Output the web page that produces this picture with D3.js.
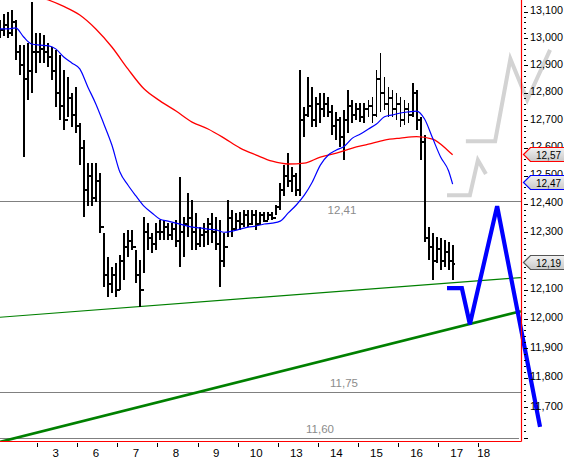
<!DOCTYPE html>
<html><head><meta charset="utf-8">
<script src="https://cdn.jsdelivr.net/npm/d3@7"></script>
<style>
body{margin:0;background:#fff}
svg{display:block}
text{font-family:"Liberation Sans",Arial,sans-serif;font-size:11.5px}
</style>
</head><body>
<svg id="c" width="564" height="461"></svg>
<script>
// ---------- DATA ----------
const days = ["2","3","6","7","8","9","10","13","14","15","16","17","18"];
const barsPerDay = 10;
const high = [13.07,13.09,13.10,13.105,13.07,12.975,12.975,12.983,13.136,13.02,
13.02,13.012,12.983,12.968,12.957,12.938,12.883,12.857,12.80,12.821,
12.69,12.628,12.545,12.545,12.545,12.51,12.297,12.213,12.178,12.192,
12.22,12.297,12.308,12.308,12.237,12.203,12.353,12.332,12.297,12.332,
12.343,12.343,12.332,12.332,12.343,12.495,12.353,12.438,12.414,12.368,
12.318,12.332,12.35,12.368,12.353,12.343,12.297,12.414,12.378,12.368,
12.371,12.378,12.378,12.378,12.378,12.371,12.371,12.371,12.371,12.396,
12.474,12.538,12.581,12.531,12.51,12.883,12.748,12.857,12.821,12.784,
12.80,12.80,12.784,12.755,12.73,12.712,12.737,12.81,12.773,12.762,
12.762,12.762,12.773,12.784,12.883,12.946,12.857,12.821,12.81,12.80,
12.784,12.773,12.762,12.835,12.81,12.712,12.646,12.318,12.297,12.283,
12.279,12.272,12.265,12.255];
const low = [13.00,13.01,13.00,13.01,12.92,12.865,12.567,12.773,12.80,12.872,
12.909,12.909,12.894,12.846,12.748,12.701,12.664,12.712,12.675,12.653,
12.538,12.354,12.393,12.393,12.407,12.297,12.108,12.074,12.088,12.074,
12.098,12.133,12.213,12.237,12.122,12.04,12.157,12.237,12.227,12.237,
12.272,12.272,12.272,12.272,12.248,12.178,12.213,12.283,12.237,12.237,
12.248,12.248,12.255,12.262,12.237,12.108,12.178,12.283,12.283,12.308,
12.308,12.318,12.318,12.325,12.308,12.325,12.336,12.343,12.343,12.36,
12.378,12.428,12.46,12.442,12.428,12.428,12.639,12.712,12.675,12.675,
12.69,12.712,12.712,12.646,12.628,12.603,12.556,12.653,12.69,12.701,
12.693,12.69,12.712,12.69,12.712,12.73,12.737,12.712,12.712,12.701,
12.675,12.682,12.69,12.712,12.664,12.556,12.265,12.203,12.133,12.192,
12.168,12.178,12.168,12.133];
const close = [13.03,13.05,13.02,13.06,12.95,12.90,12.85,12.88,12.95,12.95,
12.96,12.95,12.93,12.88,12.80,12.75,12.70,12.78,12.72,12.68,
12.60,12.45,12.50,12.42,12.48,12.32,12.15,12.12,12.15,12.10,
12.20,12.25,12.27,12.25,12.15,12.10,12.30,12.28,12.26,12.30,
12.30,12.32,12.29,12.31,12.27,12.30,12.33,12.35,12.30,12.26,
12.29,12.30,12.33,12.30,12.26,12.20,12.25,12.35,12.31,12.34,
12.33,12.36,12.33,12.36,12.33,12.36,12.34,12.36,12.35,12.39,
12.45,12.50,12.48,12.50,12.45,12.70,12.72,12.75,12.70,12.76,
12.74,12.76,12.73,12.68,12.70,12.64,12.70,12.75,12.72,12.74,
12.71,12.74,12.75,12.72,12.85,12.80,12.76,12.78,12.74,12.76,
12.70,12.74,12.72,12.80,12.70,12.62,12.28,12.25,12.20,12.24,
12.20,12.23,12.20,12.19];

// moving averages (bar index, value)
const maBlueIdx = d3.range(0, 113, 2).concat([113]);
const maBlue = [13.035,13.035,13.039,13.005,12.979,12.975,12.973,12.961,12.931,12.909,
12.887,12.821,12.759,12.686,12.61,12.513,12.467,12.428,12.392,12.368,
12.346,12.339,12.332,12.325,12.318,12.315,12.311,12.308,12.30,12.304,
12.311,12.318,12.322,12.329,12.332,12.339,12.368,12.396,12.431,12.478,
12.538,12.574,12.592,12.606,12.635,12.65,12.668,12.686,12.712,12.719,
12.726,12.73,12.733,12.704,12.635,12.567,12.517,12.47];
const maRedIdx = d3.range(8, 113, 4).concat([113]);
const maRed = [13.163,13.144,13.119,13.087,13.035,12.968,12.887,12.814,12.77,12.733,
12.693,12.668,12.635,12.599,12.574,12.552,12.542,12.545,12.567,12.581,
12.599,12.613,12.628,12.635,12.64,12.631,12.588,12.575];

// trend lines
const trendIdx = [0, 130];
const trendThin = [12.005, 12.142];
const trendThick = [11.585, 12.026];

// horizontal levels
const levels = [12.41, 11.75, 11.60];

// projections
const projBlueIdx = [111.6, 115.3, 117.3, 124.1, 134.8];
const projBlue = [12.105, 12.105, 11.981, 12.392, 11.635];
const projGreyAIdx = [111.6, 117.3, 119.3, 121.3];
const projGreyA = [12.431, 12.431, 12.556, 12.506];
const projGreyBIdx = [116.3, 123.6, 127.4, 131.6, 137.3];
const projGreyB = [12.624, 12.624, 12.924, 12.773, 12.957];

// right axis
const yTicks = [11.7,11.8,11.9,12.0,12.1,12.2,12.3,12.4,12.5,12.6,12.7,12.8,12.9,13.0,13.1];
const priceTags = [12.57, 12.47, 12.19];

// ---------- DRAW ----------
const svg = d3.select("#c");
const plotR = 521.5, plotB = 441.5;
const x = d3.scaleLinear().domain([9.5, 119.5]).range([37.7, 478.7]);
const y = d3.scaleLog().domain([11.6, 13.1]).range([437.5, 11.5]);
const loc = d3.formatLocale({decimal: ",", thousands: ".", grouping: [3], currency: ["", ""]});
const f3 = loc.format(".3f"), f2 = loc.format(".2f");

const defs = svg.append("defs");
defs.append("clipPath").attr("id", "plot").append("rect")
  .attr("x", 0).attr("y", 0).attr("width", plotR).attr("height", plotB);
const gr = defs.append("linearGradient").attr("id", "tag").attr("x1", 0).attr("y1", 0).attr("x2", 0).attr("y2", 1);
gr.append("stop").attr("offset", 0).attr("stop-color", "#f2f2f2");
gr.append("stop").attr("offset", 1).attr("stop-color", "#c9c9c9");

const plot = svg.append("g").attr("clip-path", "url(#plot)");

// level lines
const levelLabelDX = [342, 344, 320];
const levelLabelDY = [12.5, -5, -5];
levels.forEach((v, k) => {
  plot.append("line").attr("x1", 0).attr("x2", k === 2 ? 519 : plotR)
    .attr("y1", Math.round(y(v)) + 0.5).attr("y2", Math.round(y(v)) + 0.5)
    .attr("stroke", "#808080").attr("stroke-width", 1);
  svg.append("text").attr("x", levelLabelDX[k]).attr("y", y(v) + levelLabelDY[k])
    .attr("text-anchor", "middle").attr("fill", "#8c8c8c").text(f2(v));
});

// trend lines
const tl = d3.line().x((d, i) => x(trendIdx[i])).y(d => y(d));
plot.append("path").attr("d", tl(trendThin)).attr("fill", "none")
  .attr("stroke", "#008000").attr("stroke-width", 1.2);
plot.append("path").attr("d", tl(trendThick)).attr("fill", "none")
  .attr("stroke", "#008000").attr("stroke-width", 2.6);

// OHLC bars
const bars = plot.append("g").attr("stroke", "#000").attr("shape-rendering", "crispEdges");
high.forEach((h, i) => {
  const xi = x(i);
  const open = i > 0 ? close[i - 1] : close[i];
  bars.append("line").attr("x1", xi).attr("x2", xi).attr("y1", y(h)).attr("y2", y(low[i])).attr("stroke-width", 1.9);
  bars.append("line").attr("x1", xi - 2.3).attr("x2", xi).attr("y1", y(open)).attr("y2", y(open)).attr("stroke-width", 2);
  bars.append("line").attr("x1", xi).attr("x2", xi + 2.3).attr("y1", y(close[i])).attr("y2", y(close[i])).attr("stroke-width", 2);
});

// moving averages
plot.append("path").attr("d", d3.line().x((d, i) => x(maRedIdx[i])).y(d => y(d)).curve(d3.curveMonotoneX)(maRed))
  .attr("fill", "none").attr("stroke", "#ff0000").attr("stroke-width", 1.3);
plot.append("path").attr("d", d3.line().x((d, i) => x(maBlueIdx[i])).y(d => y(d)).curve(d3.curveMonotoneX)(maBlue))
  .attr("fill", "none").attr("stroke", "#0000ff").attr("stroke-width", 1.2);

// projections
const pl = (idx) => d3.line().x((d, i) => x(idx[i])).y(d => y(d));
svg.append("path").attr("d", pl(projGreyAIdx)(projGreyA)).attr("fill", "none")
  .attr("stroke", "#d3d3d3").attr("stroke-width", 4);
svg.append("path").attr("d", pl(projGreyBIdx)(projGreyB)).attr("fill", "none")
  .attr("stroke", "#d3d3d3").attr("stroke-width", 4);
svg.append("path").attr("d", pl(projBlueIdx)(projBlue)).attr("fill", "none")
  .attr("stroke", "#0000ff").attr("stroke-width", 4.2);

// frame
svg.append("line").attr("x1", plotR).attr("x2", plotR).attr("y1", 0).attr("y2", plotB)
  .attr("stroke", "#ff0000").attr("stroke-width", 1.2);
svg.append("line").attr("x1", 0).attr("x2", plotR).attr("y1", plotB).attr("y2", plotB)
  .attr("stroke", "#ff0000").attr("stroke-width", 1.2);

// right axis ticks
const ax = svg.append("g").attr("shape-rendering", "crispEdges");
d3.range(580, 657).forEach(k => {
  const v = k / 50;
  const major = k % 5 === 0;
  ax.append("line").attr("x1", 524).attr("x2", major ? 528 : 526)
    .attr("y1", Math.round(y(v)) + 0.5).attr("y2", Math.round(y(v)) + 0.5)
    .attr("stroke", "#000").attr("stroke-width", 1);
});
yTicks.forEach(v => {
  ax.append("text").attr("x", 530).attr("y", y(v) + 2.5).attr("fill", "#000")
    .attr("textLength", 33).attr("lengthAdjust", "spacingAndGlyphs").text(f3(v));
});

// x axis
const lastIdx = high.length - 1;
days.forEach((d, k) => {
  if (k === 0) return;
  const tx = x(k * barsPerDay - 0.5);
  ax.append("line").attr("x1", tx).attr("x2", tx).attr("y1", 443).attr("y2", 447)
    .attr("stroke", "#000").attr("stroke-width", 1);
  const hasBars = k * barsPerDay <= lastIdx;
  svg.append("text").attr("x", hasBars ? x(k * barsPerDay + 4) : tx + 5).attr("y", 457)
    .attr("text-anchor", "middle").attr("fill", "#000").text(d);
});

// price tags
const tagColors = ["#ff0000", "#0000ff", "#555555"];
priceTags.forEach((v, k) => {
  const yc = Math.round(y(v)) - 1.5;
  svg.append("path")
    .attr("d", `M523.5,${yc} L530.5,${yc - 7} L570,${yc - 7} L570,${yc + 7} L530.5,${yc + 7} Z`)
    .attr("fill", "url(#tag)").attr("stroke", tagColors[k]).attr("stroke-width", 1.2);
  svg.append("text").attr("x", 536).attr("y", yc + 4.5).attr("fill", "#000")
    .attr("textLength", 25).attr("lengthAdjust", "spacingAndGlyphs").text(f2(v));
});
</script>
</body></html>
